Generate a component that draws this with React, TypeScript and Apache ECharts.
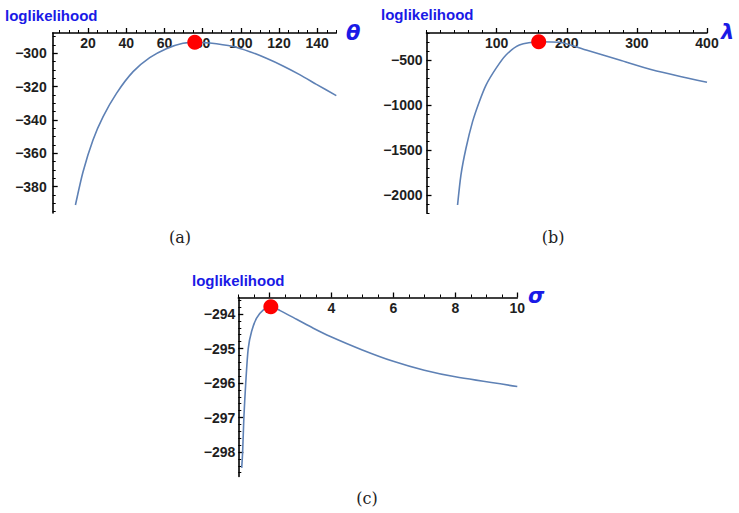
import React, { useEffect, useRef } from "react";
import * as echarts from "echarts";

// Panel (a): theta
const thetaX = [13.4, 17.4, 22.6, 27.9, 34.9, 43.6, 52.3, 61.0, 69.7, 75.9, 83.7, 95.9, 104.7, 113.4, 122.1, 130.8, 139.6, 150];
const thetaY = [-391.0, -371.0, -352.0, -338.0, -324.0, -311.0, -302.6, -297.2, -294.0, -293.4, -293.8, -295.9, -299.0, -303.0, -307.6, -312.8, -318.6, -325.4];
const thetaMax = [75.9, -293.4];
const thetaXTicks = [20, 40, 60, 80, 100, 120, 140];
const thetaYTicks = [-380, -360, -340, -320, -300];

// Panel (b): lambda
const lambdaX = [44.3, 49.1, 56.3, 65.7, 75.3, 84.9, 99.1, 113.4, 132.4, 160, 189.6, 227.7, 275.3, 322.7, 400];
const lambdaY = [-2111, -1778, -1481, -1185, -963, -778, -593, -444, -333, -297, -303, -389, -500, -611, -748];
const lambdaMax = [160, -297];
const lambdaXTicks = [100, 200, 300, 400];
const lambdaYTicks = [-2000, -1500, -1000, -500];

// Panel (c): sigma
const sigmaX = [1.11, 1.14, 1.18, 1.24, 1.32, 1.43, 1.59, 1.81, 2.05, 2.35, 2.88, 3.42, 3.97, 5, 6, 7, 8, 10];
const sigmaY = [-298.46, -298.0, -297.0, -296.0, -295.0, -294.5, -294.12, -293.88, -293.79, -293.9, -294.15, -294.41, -294.65, -295.04, -295.37, -295.63, -295.82, -296.1];
const sigmaMax = [2.05, -293.79];
const sigmaXTicks = [2, 4, 6, 8, 10];
const sigmaYTicks = [-298, -297, -296, -295, -294];

const yTitle = "loglikelihood";
const captions = ["(a)", "(b)", "(c)"];
const symbols = ["θ", "λ", "σ"];

const BLUE = "#1a1ae6";
const CURVE = "#5E81B5";

function minors(min: number, max: number, step: number, majors: number[]) {
  const out: number[] = [];
  const start = Math.ceil(min / step - 1e-9);
  for (let k = start; k * step <= max + 1e-9; k++) {
    const v = +(k * step).toFixed(6);
    if (!majors.some((m) => Math.abs(m - v) < step / 10)) out.push(v);
  }
  return out;
}

const fmt = (v: number) => String(+v.toFixed(6)).replace("-", "\u2212");

export default function App() {
  const ref = useRef<HTMLDivElement>(null);
  useEffect(() => {
    if (!ref.current) return;
    const chart = echarts.init(ref.current, null, { renderer: "svg" });

    const panels = [
      { grid: { left: 52.7, top: 33, width: 283.6, height: 180 }, xr: [1.5, 150], yr: [-395.8, -287.8], xt: thetaXTicks, yt: thetaYTicks, xm: 5, ym: 5, ylm: 6, x: thetaX, y: thetaY, mx: thetaMax },
      { grid: { left: 426.5, top: 33, width: 280.5, height: 180 }, xr: [0, 400], yr: [-2200, -200], xt: lambdaXTicks, yt: lambdaYTicks, xm: 20, ym: 100, ylm: 4, x: lambdaX, y: lambdaY, mx: lambdaMax },
      { grid: { left: 238.3, top: 297.5, width: 279, height: 179 }, xr: [1, 10], yr: [-298.71, -293.52], xt: sigmaXTicks, yt: sigmaYTicks, xm: 0.5, ym: 0.2, ylm: 3, x: sigmaX, y: sigmaY, mx: sigmaMax },
    ];

    const labelStyle = { fontSize: 14, fontWeight: "bold" as const, color: "#1e1e1e", fontFamily: "Liberation Sans" };
    const lineStyle = { color: "#000", width: 1.6 };

    const grids: any[] = [];
    const xAxes: any[] = [];
    const yAxes: any[] = [];
    const series: any[] = [];

    panels.forEach((p, i) => {
      grids.push({ ...p.grid, containLabel: false });
      xAxes.push({
        gridIndex: i, type: "value", position: "top", min: p.xr[0], max: p.xr[1],
        axisLine: { show: true, onZero: false, lineStyle },
        axisTick: { show: true, inside: false, length: 5, customValues: p.xt, lineStyle: { color: "#000", width: 1.3 } },
        axisLabel: { show: true, inside: true, margin: 3, customValues: p.xt, formatter: fmt, ...labelStyle },
        splitLine: { show: false },
      });
      xAxes.push({
        gridIndex: i, type: "value", position: "top", min: p.xr[0], max: p.xr[1],
        axisLine: { show: false, onZero: false },
        axisTick: { show: true, inside: false, length: 3, customValues: minors(p.xr[0], p.xr[1], p.xm, p.xt), lineStyle: { color: "#000", width: 1 } },
        axisLabel: { show: false },
        splitLine: { show: false },
      });
      yAxes.push({
        gridIndex: i, type: "value", position: "left", min: p.yr[0], max: p.yr[1],
        axisLine: { show: true, onZero: false, lineStyle },
        axisTick: { show: true, inside: true, length: 5, customValues: p.yt, lineStyle: { color: "#000", width: 1.3 } },
        axisLabel: { show: true, margin: p.ylm, customValues: p.yt, formatter: fmt, ...labelStyle },
        splitLine: { show: false },
      });
      yAxes.push({
        gridIndex: i, type: "value", position: "left", min: p.yr[0], max: p.yr[1],
        axisLine: { show: false, onZero: false },
        axisTick: { show: true, inside: true, length: 3, customValues: minors(p.yr[0], p.yr[1], p.ym, p.yt), lineStyle: { color: "#000", width: 1 } },
        axisLabel: { show: false },
        splitLine: { show: false },
      });
      series.push({
        type: "line", xAxisIndex: i * 2, yAxisIndex: i * 2, showSymbol: false, clip: false,
        smooth: 0.25,
        lineStyle: { color: CURVE, width: 1.6 },
        data: p.x.map((v, k) => [v, p.y[k]]),
        z: 3,
      });
      series.push({
        type: "scatter", xAxisIndex: i * 2, yAxisIndex: i * 2, clip: false,
        symbolSize: 15, itemStyle: { color: "#ff0000", opacity: 1 },
        data: [p.mx], z: 5,
      });
    });

    const titleStyle = { fill: BLUE, font: "bold 15px 'Liberation Sans'" };
    const symStyle = { fill: BLUE, font: "italic bold 21px 'DejaVu Sans'" };
    const capStyle = { fill: "#222", font: "16px 'DejaVu Serif'", textAlign: "center", textVerticalAlign: "middle" };

    chart.setOption({
      animation: false,
      backgroundColor: "#ffffff",
      grid: grids,
      xAxis: xAxes,
      yAxis: yAxes,
      series,
      graphic: [
        { type: "text", left: 5, top: 8, style: { text: yTitle, ...titleStyle } },
        { type: "text", left: 381, top: 7, style: { text: yTitle, ...titleStyle } },
        { type: "text", left: 192, top: 273, style: { text: yTitle, ...titleStyle } },
        { type: "text", left: 346, top: 22, style: { text: symbols[0], ...symStyle } },
        { type: "text", left: 721, top: 21, style: { text: symbols[1], ...symStyle } },
        { type: "text", left: 528, top: 285, style: { text: symbols[2], ...symStyle } },
        { type: "text", x: 180, y: 237, style: { text: captions[0], ...capStyle } },
        { type: "text", x: 553, y: 237, style: { text: captions[1], ...capStyle } },
        { type: "text", x: 367, y: 498, style: { text: captions[2], ...capStyle } },
      ],
    });
    return () => chart.dispose();
  }, []);
  return <div ref={ref} style={{ position: "fixed", left: 0, top: 0, width: 739, height: 513 }} />;
}
